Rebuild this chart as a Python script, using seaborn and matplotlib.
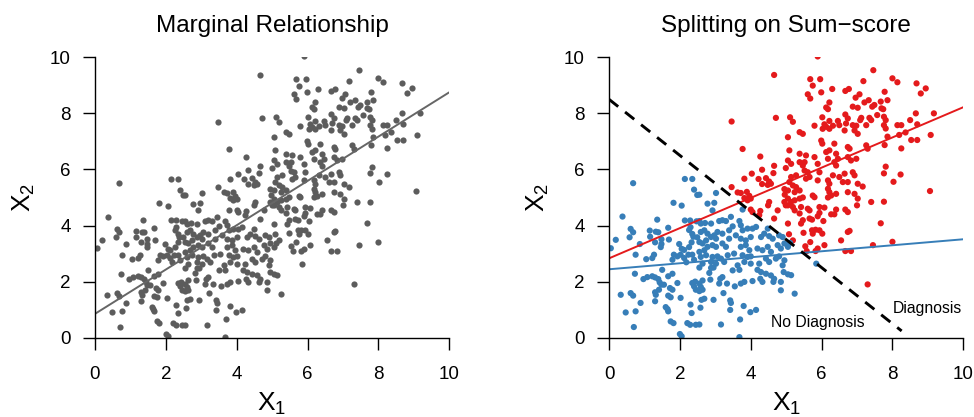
import numpy as np
import pandas as pd
import matplotlib
matplotlib.use("Agg")
import matplotlib.pyplot as plt
import seaborn as sns

# symptom scores (same 470-odd people in both panels)
x1 = [
    0.75, 1.05, 1.22, 1.27, 1.83, 1.93, 2.02, 2.12, 2.24, 2.35, 1.79, 2.40, 2.18, 1.50, 0.73, 0.97,
    1.08, 1.22, 1.30, 1.39, 1.43, 1.48, 1.55, 1.67, 1.79, 1.93, 1.72, 1.79, 1.67, 1.74, 1.41, 1.30,
    1.32, 0.33, 0.61, 0.68, 0.89, 0.47, 0.75, 1.30, 1.60, 1.65, 1.67, 2.02, 2.30, 2.40, 2.35, 2.43,
    2.45, 2.33, 1.74, 1.82, 2.21, 2.29, 2.45, 0.70, 2.00, 2.05,
    0.68, 2.14, 2.35, 2.40, 2.49, 1.82, 2.05, 0.38, 1.36, 2.14, 2.29, 2.47, 1.67, 2.30, 2.26, 0.61,
    0.68, 1.15, 1.32, 1.39, 1.16, 0.58, 0.19, 1.48, 1.69, 2.35, 2.38, 2.49, 1.30, 1.48, 1.46, 0.87,
    1.98, 2.05, 2.12, 2.26, 2.33, 0.05,
    2.55, 2.88, 2.95, 2.83, 2.64, 2.55, 2.59, 2.64, 2.55, 2.86, 3.14, 3.20, 3.11, 3.33, 3.23, 2.95,
    2.69, 2.61, 3.42, 3.44, 3.42, 2.58, 3.49, 3.68, 3.55, 3.72, 3.82, 4.05, 4.27, 4.33, 4.19, 4.29,
    4.43, 4.57, 4.66, 4.64, 4.85, 4.93, 4.85, 3.80, 3.99, 4.15, 3.70, 3.16, 2.55, 3.68,
    2.78, 2.97, 2.92, 3.82, 3.91, 4.00, 3.77, 4.00, 4.05, 4.27, 4.52, 4.49, 4.76, 4.95, 4.99,
    2.55, 2.59, 2.71, 2.88, 3.11, 3.20, 3.30, 3.44, 3.68, 3.72, 3.49, 3.39, 3.77, 3.91, 4.05, 4.15,
    4.24, 4.66, 4.48,
    2.59, 2.69, 2.78, 2.88, 2.97, 3.02, 3.06, 3.20, 3.39, 3.58, 3.72, 3.86, 4.00, 4.29, 4.38, 4.52,
    4.62, 4.80, 4.90,
    2.55, 2.64, 2.74, 2.78, 2.69, 2.55, 2.92, 3.02, 3.20, 3.30,
    2.59, 2.74, 2.92, 3.06, 3.16, 2.88, 3.02, 3.25, 3.35, 2.64, 3.53,
    3.72, 3.86, 3.96, 3.77, 3.91, 4.00, 3.82, 4.00, 4.19, 4.33, 4.48, 4.57, 4.76, 4.85, 4.95, 4.43,
    4.52, 4.71, 4.80, 4.95, 4.24, 3.63, 4.90,
    3.46, 4.71, 3.77, 4.27, 4.66, 4.32, 4.64, 4.03, 3.82, 4.22, 4.43, 4.52, 4.57, 4.48, 4.32, 4.99,
    3.46, 3.02, 3.63, 3.72, 3.89, 3.96, 2.55, 4.95, 4.96, 4.66,
    5.05, 5.14, 5.24, 5.38, 5.47, 5.05, 5.19, 5.24, 5.42, 5.61, 5.66, 5.38, 5.94, 6.08, 5.94, 5.89,
    6.18, 6.27, 6.36, 6.41, 6.67, 6.74, 7.02, 7.00, 7.40, 5.66, 5.73, 5.47, 5.42, 6.05, 5.05, 5.73,
    5.83, 5.94, 6.02, 5.49, 5.75, 5.08, 6.74, 6.79, 5.19, 5.11, 5.68, 6.55, 5.54, 5.58, 5.89, 5.83,
    6.08, 5.05, 6.67, 6.83, 7.45, 5.85, 5.05, 5.14, 7.30, 5.24,
    5.38, 5.47, 6.03, 6.22, 6.65, 6.93, 7.02, 5.05, 5.99, 6.02, 6.36, 6.74, 6.79, 7.26, 7.30, 5.09,
    5.38, 5.56, 5.80, 6.13, 6.22, 6.18, 6.41, 6.46, 6.74, 6.83, 6.98, 5.05, 5.14, 5.38, 5.47, 5.52,
    5.89, 5.94, 6.36, 6.41, 5.52, 5.61, 5.28, 5.14, 5.56, 5.66, 5.89, 6.32, 6.50, 6.65, 6.88, 6.93,
    6.18, 6.22, 6.60, 6.74, 7.02, 7.16, 5.09, 5.19, 5.28, 5.05, 5.24, 5.38, 6.18, 6.22, 6.27, 6.41,
    6.74, 6.93, 5.75, 5.80,
    5.89, 7.46, 5.68, 5.96, 5.75, 7.18, 6.30, 6.67, 6.77, 5.99, 5.61, 5.68, 7.07, 6.96, 6.22, 7.21,
    7.33, 6.13, 6.18, 6.88, 7.02, 7.43, 7.49, 5.11, 5.19, 6.02, 6.67, 6.74, 7.12, 7.09, 7.35, 7.40,
    5.80, 6.08, 6.13, 6.22, 6.32, 6.46, 6.50, 6.69, 6.88, 6.98, 7.26,
    8.00, 8.14, 8.68, 8.94, 8.80, 7.78, 7.86, 7.67, 7.69, 7.74, 7.57, 7.76, 7.81, 7.76, 7.81, 8.14,
    8.25, 8.50, 8.66, 9.17, 8.70, 8.37, 8.19, 7.86, 9.08, 8.53, 8.70, 7.78, 8.25, 7.81, 7.76, 8.23,
    8.03, 9.06, 7.76, 7.67, 8.00,
]
x2 = [
    2.96, 2.80, 2.84, 2.96, 2.96, 2.90, 2.96, 2.84, 2.96, 2.96, 2.78, 2.78, 2.69, 2.42, 2.28, 2.09,
    2.16, 2.19, 2.15, 2.09, 1.97, 1.89, 1.89, 2.19, 2.28, 1.95, 1.77, 1.71, 1.50, 1.44, 1.71, 1.62,
    1.53, 1.53, 1.59, 1.50, 1.24, 0.90, 0.94, 1.30, 1.09, 1.02, 0.94, 1.42, 1.18, 1.83, 1.95, 2.00,
    1.71, 0.88, 0.58, 0.52, 0.52, 0.46, 0.46, 0.38, 0.13, 0.05,
    5.51, 5.66, 5.66, 5.28, 5.09, 4.81, 4.71, 4.32, 4.21, 4.18, 4.18, 4.15, 3.92, 3.94, 3.84, 3.88,
    3.76, 3.82, 3.78, 3.76, 3.60, 3.58, 3.49, 3.51, 3.50, 3.70, 3.60, 3.58, 3.40, 3.34, 3.23, 3.34,
    3.34, 3.17, 3.13, 3.23, 3.40, 3.19,
    2.50, 2.49, 2.50, 2.31, 2.04, 1.93, 1.81, 1.71, 1.66, 2.07, 2.10, 2.16, 1.93, 1.93, 1.59, 1.35,
    1.39, 1.35, 1.33, 1.24, 0.99, 1.07, 2.40, 2.42, 1.83, 1.93, 1.99, 2.02, 2.10, 1.99, 2.42, 2.34,
    2.28, 2.22, 2.10, 1.99, 1.99, 2.34, 1.69, 1.13, 0.91, 0.99, 0.65, 0.47, 0.47, 0.02,
    4.78, 4.81, 4.54, 4.98, 4.90, 4.96, 4.57, 4.57, 4.48, 4.52, 4.84, 4.72, 4.54, 4.84, 4.72,
    4.16, 4.07, 4.09, 4.07, 4.16, 4.19, 4.16, 4.31, 4.16, 4.01, 3.97, 3.83, 3.83, 3.89, 3.89, 3.95,
    4.37, 4.25, 3.89,
    3.77, 3.83, 3.71, 3.59, 3.65, 3.53, 3.77, 3.71, 3.53, 3.65, 3.53, 3.47, 3.59, 3.59, 3.71, 3.62,
    3.53, 3.65, 3.59,
    3.41, 3.36, 3.47, 3.24, 3.12, 3.06, 3.30, 3.24, 3.36, 3.24,
    2.88, 2.94, 2.88, 2.90, 2.82, 2.70, 2.64, 2.70, 2.94, 2.64, 3.00,
    3.24, 3.30, 3.12, 2.94, 2.88, 2.90, 2.70, 2.64, 3.18, 3.12, 3.24, 3.06, 3.30, 3.18, 3.36, 2.82,
    2.70, 2.82, 2.90, 2.76, 2.64, 2.58, 2.58,
    7.71, 7.84, 6.73, 6.46, 6.13, 5.99, 5.87, 5.85, 5.67, 5.66, 5.69, 5.57, 5.49, 5.45, 5.48, 6.05,
    5.37, 5.16, 5.18, 5.16, 5.20, 5.06, 5.10, 5.30, 5.10, 9.37,
    4.96, 4.84, 4.90, 4.96, 5.00, 4.72, 4.66, 4.54, 4.66, 4.60, 4.54, 4.43, 4.66, 4.64, 4.45, 4.33,
    5.00, 4.40, 4.40, 4.57, 4.57, 4.48, 4.96, 4.72, 4.84, 4.25, 4.21, 4.19, 4.07, 4.16, 4.07, 3.83,
    3.85, 3.83, 3.71, 3.74, 3.71, 3.69, 3.77, 3.81, 3.47, 3.38, 3.41, 3.47, 3.26, 3.09, 3.18, 3.09,
    3.30, 3.24, 3.09, 3.09, 3.30, 2.64, 2.26, 2.23, 1.90, 1.57,
    7.33, 7.27, 7.45, 7.45, 7.39, 7.39, 7.27, 7.15, 7.03, 6.92, 6.92, 6.80, 6.74, 6.86, 6.74, 6.68,
    6.56, 6.50, 6.44, 6.62, 6.68, 6.38, 6.56, 6.38, 6.44, 6.32, 6.38, 6.32, 6.20, 6.26, 6.14, 6.26,
    6.20, 5.90, 6.26, 6.14, 5.96, 5.90, 5.79, 5.73, 5.67, 5.73, 5.61, 5.79, 5.73, 5.85, 5.90, 5.79,
    5.61, 5.49, 5.55, 5.55, 5.49, 5.39, 5.55, 5.43, 5.37, 5.25, 5.19, 5.25, 5.31, 5.19, 5.07, 5.13,
    5.19, 5.13, 5.07, 5.01,
    10.03, 9.54, 9.22, 9.22, 8.99, 9.15, 8.87, 8.80, 8.87, 8.75, 8.68, 8.53, 8.68, 8.56, 8.39, 8.39,
    8.47, 8.21, 8.15, 8.24, 8.20, 8.24, 8.30, 7.86, 7.70, 7.86, 7.96, 7.82, 7.84, 7.76, 7.84, 7.76,
    7.56, 7.61, 7.52, 7.73, 7.56, 7.73, 7.58, 7.64, 7.58, 7.56, 7.58,
    9.25, 9.11, 9.07, 8.89, 8.71, 8.77, 8.47, 8.42, 8.18, 8.15, 7.94, 7.88, 7.76, 7.58, 7.46, 7.58,
    7.58, 7.76, 8.00, 8.00, 7.61, 7.32, 7.23, 7.17, 7.23, 7.05, 7.05, 6.87, 6.75, 6.10, 5.86, 5.82,
    5.56, 5.23, 4.85, 4.08, 3.42,
]

# fitted lines (intercept, slope) and the sum-score cut-off
marginal_fit = (0.85, 0.79)
diagnosis_fit = (2.83, 0.539)
no_diagnosis_fit = (2.44, 0.107)
sum_cut = 8.5
cut_line_end = 8.26

df = pd.DataFrame({"x1": x1, "x2": x2})
df["group"] = np.where(df["x1"] + df["x2"] > sum_cut, "Diagnosis", "No Diagnosis")

sns.set_style("ticks")
plt.rcParams["font.family"] = ["Liberation Sans", "DejaVu Sans"]
plt.rcParams["text.color"] = "black"
plt.rcParams["axes.labelcolor"] = "black"

RED = "#E41A1C"
BLUE = "#377EB8"
GREY_PT = "#5c5c5c"
GREY_LN = "#666666"

fig = plt.figure(figsize=(9.74, 4.17), dpi=100)
ax1 = fig.add_axes([0.0975, 0.1902, 0.3637, 0.6724])
ax2 = fig.add_axes([0.6253, 0.1902, 0.3637, 0.6724])
xs = np.array([0, 10])


def style_axis(ax, title):
    ax.set_xlim(0, 10)
    ax.set_ylim(0, 10)
    ax.set_xticks(range(0, 11, 2))
    ax.set_yticks(range(0, 11, 2))
    for side in ["top", "right"]:
        ax.spines[side].set_visible(False)
    for side in ["left", "bottom"]:
        ax.spines[side].set_color("black")
        ax.spines[side].set_linewidth(1.0)
    ax.tick_params(axis="x", length=8.5, width=1.0, pad=12, labelsize=13.5, colors="black")
    ax.tick_params(axis="y", length=8.5, width=1.0, pad=9, labelsize=13.5, colors="black")
    ax.set_title(title, fontsize=17.5, pad=18, color="black")
    ax.set_xlabel(r"$\mathregular{X_1}$", fontsize=19)
    ax.set_ylabel(r"$\mathregular{X_2}$", fontsize=19)
    ax.xaxis.set_label_coords(0.5, -0.19)
    ax.yaxis.set_label_coords(-0.165, 0.5)


# left: all people together
sns.scatterplot(data=df, x="x1", y="x2", color=GREY_PT, s=20, linewidth=0, ax=ax1)
ax1.plot(xs, marginal_fit[0] + marginal_fit[1] * xs, color=GREY_LN, lw=1.4)
style_axis(ax1, "Marginal Relationship")

# right: split by sum score
sns.scatterplot(data=df, x="x1", y="x2", hue="group", palette={"Diagnosis": RED, "No Diagnosis": BLUE},
                s=20, linewidth=0, legend=False, ax=ax2)
ax2.plot(xs, diagnosis_fit[0] + diagnosis_fit[1] * xs, color=RED, lw=1.4)
ax2.plot(xs, no_diagnosis_fit[0] + no_diagnosis_fit[1] * xs, color=BLUE, lw=1.4)
ax2.plot([0, cut_line_end], [sum_cut, sum_cut - cut_line_end], color="black", lw=2.1, linestyle=(0, (4, 3)))
ax2.text(5.88, 0.53, "No Diagnosis", fontsize=11.3, ha="center", va="center")
ax2.text(9.0, 1.05, "Diagnosis", fontsize=11.3, ha="center", va="center")
style_axis(ax2, "Splitting on Sum\u2212score")

plt.savefig("out.png", dpi=100)
